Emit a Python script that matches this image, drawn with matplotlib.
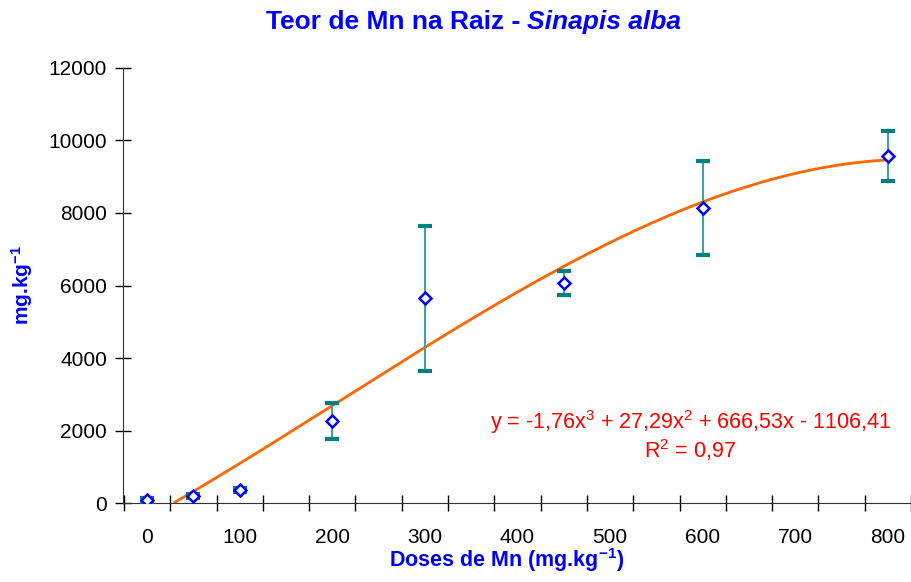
import numpy as np
import matplotlib
matplotlib.use('Agg')
import matplotlib.pyplot as plt

plt.rcParams['font.family'] = ['Liberation Sans', 'DejaVu Sans']
plt.rcParams['mathtext.fontset'] = 'custom'
plt.rcParams['mathtext.rm'] = 'Liberation Sans'
plt.rcParams['mathtext.it'] = 'Liberation Sans:italic'
plt.rcParams['mathtext.bf'] = 'Liberation Sans:bold'

# doses de Mn (mg/kg) e teor na raiz
doses = [0, 50, 100, 200, 300, 450, 600, 800]
teor = [80, 190, 360, 2260, 5650, 6070, 8135, 9570]
erro = [50, 60, 60, 500, 2000, 330, 1300, 690]

# linha de tendencia do Excel (x = indice da dose)
coef = [-1.76, 27.29, 666.53, -1106.41]
eq_text = 'y = -1,76x$^\\mathrm{3}$ + 27,29x$^\\mathrm{2}$ + 666,53x - 1106,41'
r2_text = 'R$^\\mathrm{2}$ = 0,97'

blue = '#0000ff'
teal = '#008080'

fig = plt.figure(figsize=(9.12, 5.82), dpi=100)
ax = fig.add_axes([0.1349, 0.1357, 0.864, 0.7475])

xs = np.linspace(0, 800, 400)
ys = np.polyval(coef, xs / 50 + 1)
keep = ys >= 0
ax.plot(xs[keep], ys[keep], color='#ff6600', lw=2, zorder=2)

ax.errorbar(doses, teor, yerr=erro, fmt='none', ecolor='#3fa3a3', elinewidth=1.5,
            capsize=0, zorder=3)
# capas grossas das barras
ax.errorbar(doses, teor, yerr=erro, fmt='none', ecolor=teal, elinewidth=0,
            capsize=5, capthick=3, zorder=3)
ax.plot(doses, teor, linestyle='none', marker='D', ms=6, mfc='white', mec=blue,
        mew=1.8, zorder=4)

ax.set_xlim(-26, 825)
ax.set_ylim(0, 12000)

ax.set_xticks(range(0, 801, 100))
ax.set_xticks(range(-25, 826, 50), minor=True)
ax.tick_params(axis='x', which='major', length=0, pad=18, labelsize=15)
ax.tick_params(axis='x', which='minor', length=11, direction='inout', width=1)
ax.set_yticks(range(0, 12001, 2000))
ax.tick_params(axis='y', length=11, direction='inout', width=1, pad=6, labelsize=15)

for s in ['top', 'right']:
    ax.spines[s].set_visible(False)
for s in ['left', 'bottom']:
    ax.spines[s].set_color('#333333')

fig.text(0.578, 0.962, 'Teor de Mn na Raiz - ', color=blue, fontsize=19,
         fontweight='bold', ha='right', va='center')
fig.text(0.578, 0.962, 'Sinapis alba', color=blue, fontsize=19,
         fontweight='bold', style='italic', ha='left', va='center')

ax.set_xlabel('Doses de Mn (mg.kg$^\\mathbf{-1}$)', color=blue, fontsize=15.5, fontweight='bold')
ax.xaxis.set_label_coords((507 - 123) / 788, -0.1)
ax.set_ylabel('mg.kg$^\\mathbf{-1}$', color=blue, fontsize=15, fontweight='bold')
ax.yaxis.set_label_coords(-0.112, 0.5)

fig.text(0.757, 0.275, eq_text, color='#ff0000', fontsize=15.5, ha='center', va='center')
fig.text(0.757, 0.227, r2_text, color='#ff0000', fontsize=15.5, ha='center', va='center')

fig.savefig('out.png', dpi=100)
